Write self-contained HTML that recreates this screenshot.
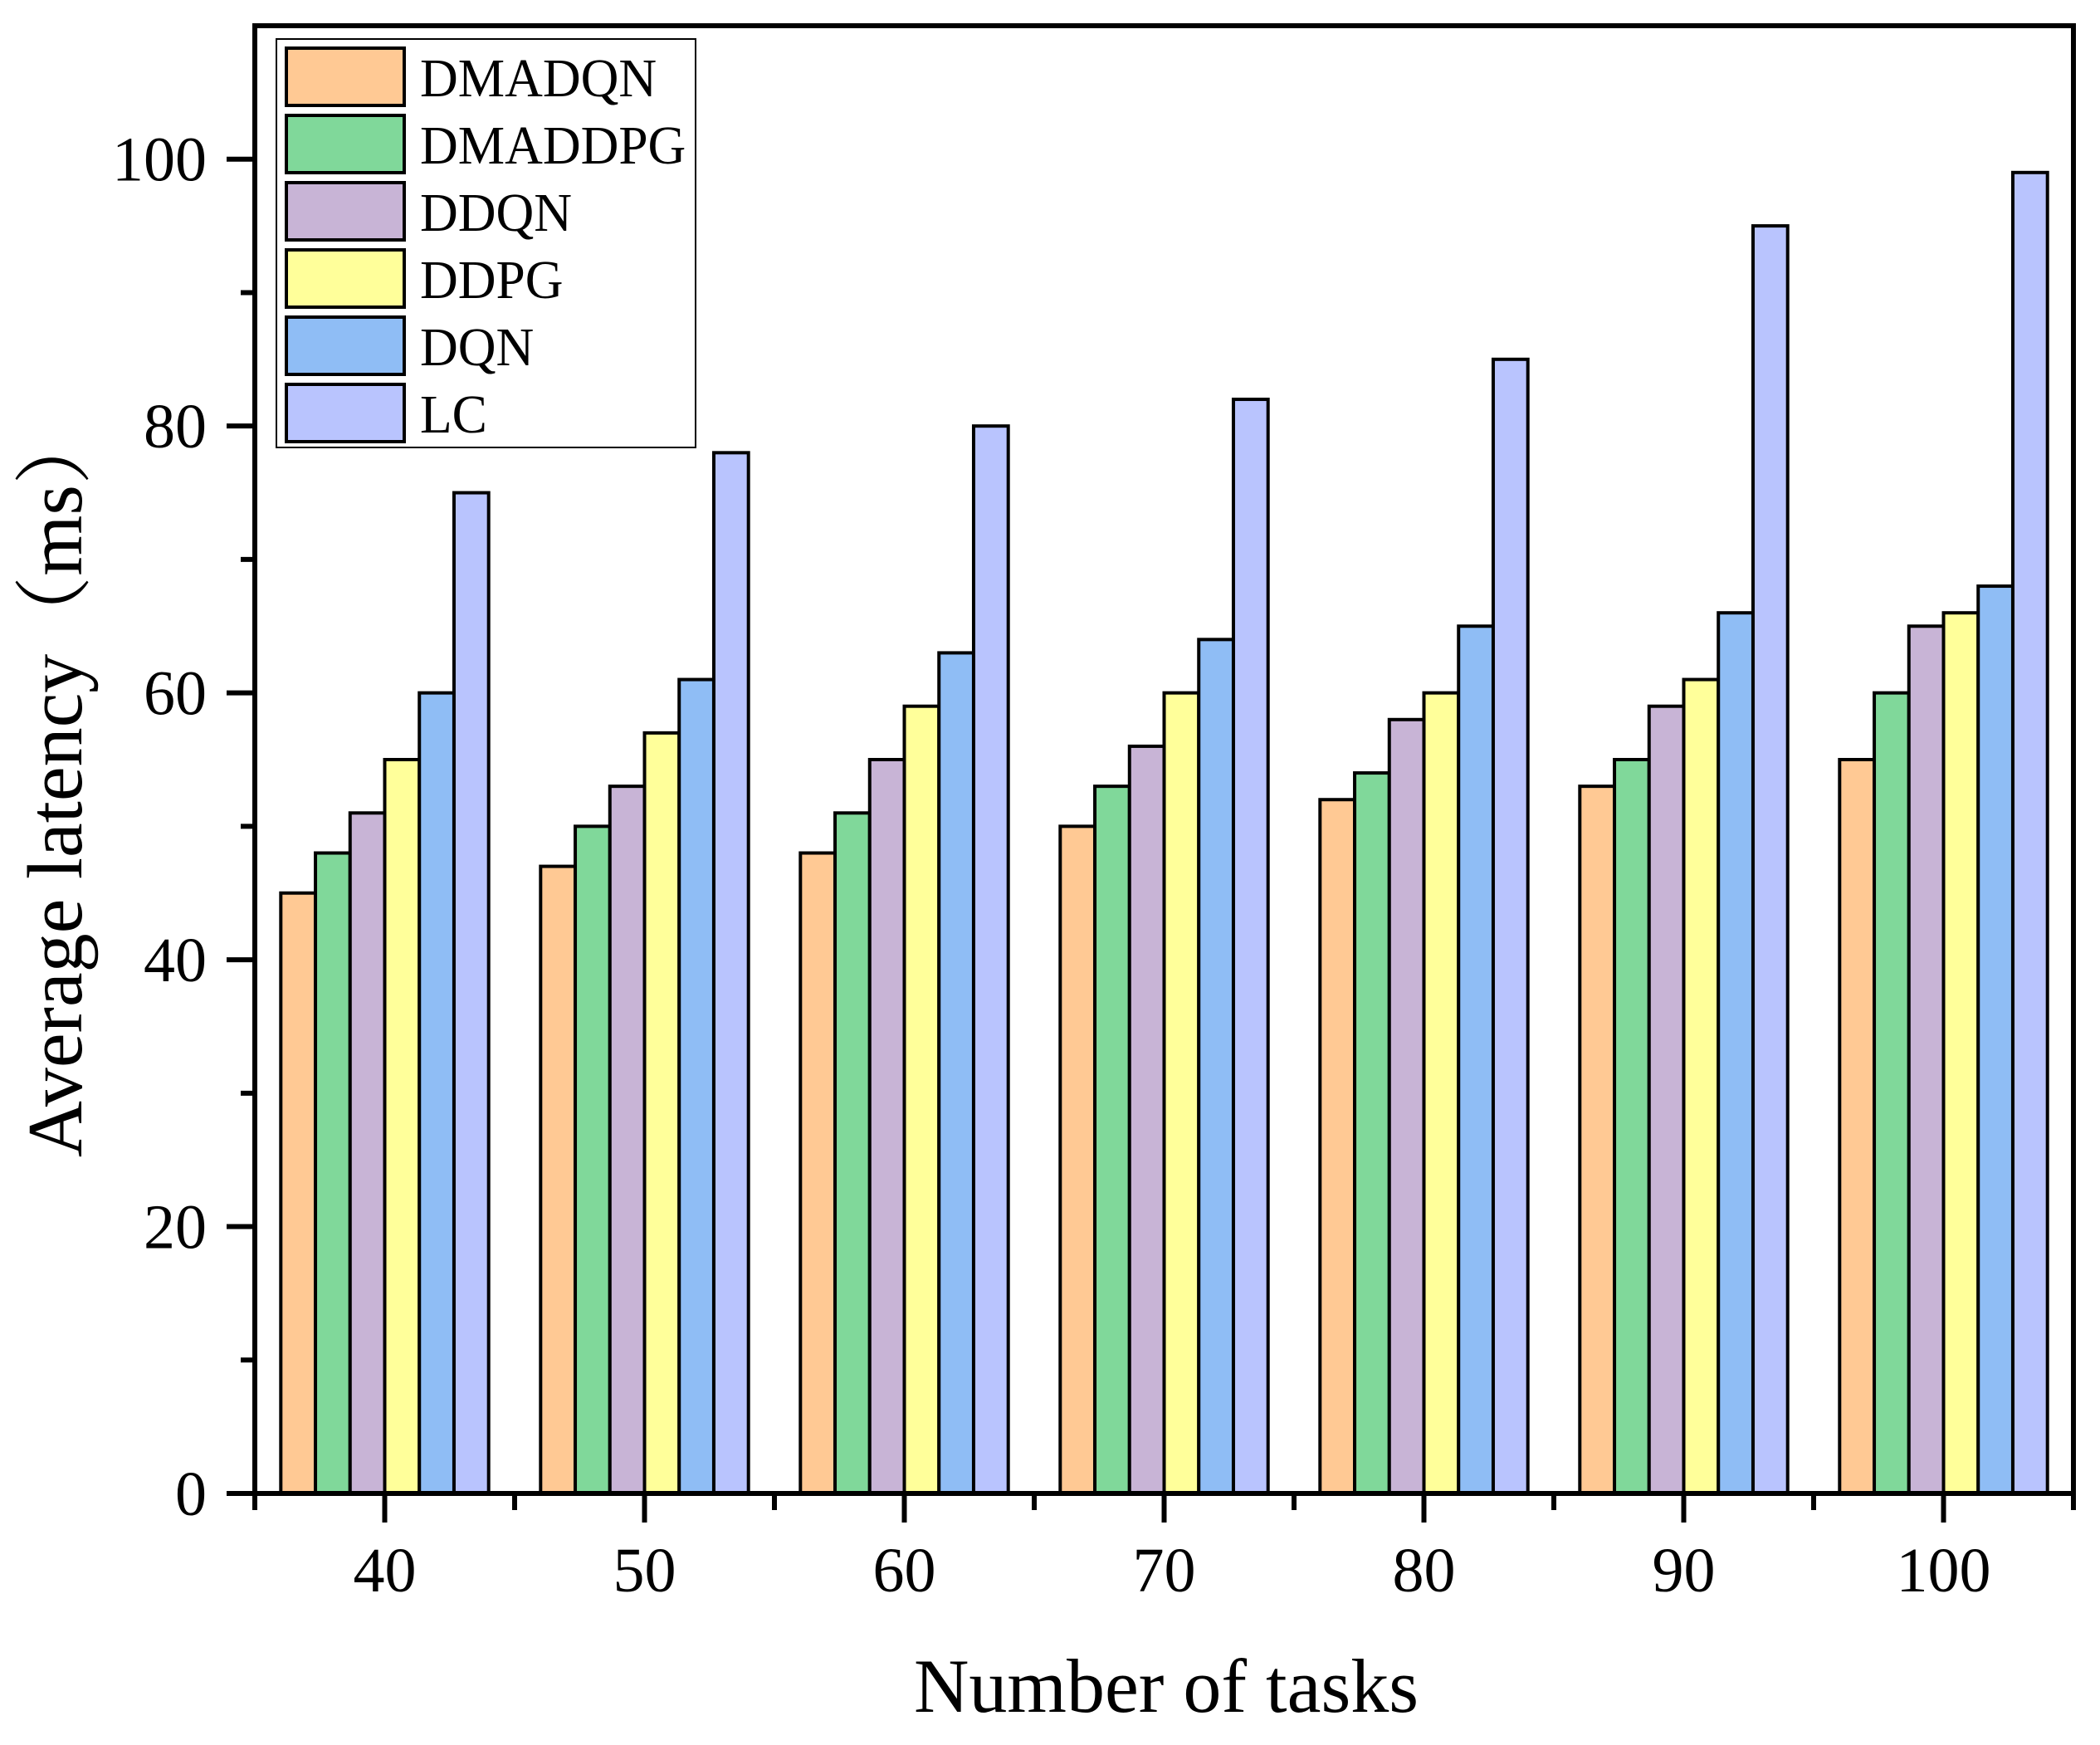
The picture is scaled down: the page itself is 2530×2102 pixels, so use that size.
<!DOCTYPE html>
<html><head><meta charset="utf-8"><style>
html,body{margin:0;padding:0;background:#fff;}
svg{display:block;font-family:"Liberation Serif","Noto Serif CJK SC",serif;}
</style></head><body>
<svg id="chart" width="2530" height="2102" viewBox="0 0 2530 2102" xmlns="http://www.w3.org/2000/svg">
<rect width="2530" height="2102" fill="#fff"/>
<g id="bars"></g>
<g id="axes"></g>
<g id="legend"></g>
<text x="1405" y="2062" font-size="92" text-anchor="middle">Number of tasks</text>
<text transform="translate(98,942) rotate(-90)" font-size="94" text-anchor="middle">Average latency（ms）</text>
</svg>
<script>
const categories = [40, 50, 60, 70, 80, 90, 100];
const seriesNames = ["DMADQN", "DMADDPG", "DDQN", "DDPG", "DQN", "LC"];
const dmadqn = [45, 47, 48, 50, 52, 53, 55];
const dmaddpg = [48, 50, 51, 53, 54, 55, 60];
const ddqn = [51, 53, 55, 56, 58, 59, 65];
const ddpg = [55, 57, 59, 60, 60, 61, 66];
const dqn = [60, 61, 63, 64, 65, 66, 68];
const lc = [75, 78, 80, 82, 85, 95, 99];
const yTicks = [0, 20, 40, 60, 80, 100];
const colors = ["#FFC994", "#80D89A", "#C8B4D6", "#FFFF9A", "#8FBDF5", "#B9C4FE"];
const allSeries = [dmadqn, dmaddpg, ddqn, ddpg, dqn, lc];

const NS = "http://www.w3.org/2000/svg";
const L = 307, R = 2498, T = 31, B = 1799;
const xMin = 35, xMax = 105, yMin = 0, yMax = 110;
function xs(v){ return L + (v - xMin) / (xMax - xMin) * (R - L); }
function ys(v){ return B - (v - yMin) / (yMax - yMin) * (B - T); }
function mk(tag, attrs, parent){ const e = document.createElementNS(NS, tag); for (const k in attrs) e.setAttribute(k, attrs[k]); parent.appendChild(e); return e; }

const barsG = document.getElementById('bars');
const step = xs(50) - xs(40);
const groupW = step * 0.8;
const bw = groupW / allSeries.length;
allSeries.forEach((s, si) => {
  s.forEach((v, ci) => {
    const x0 = xs(categories[ci]) - groupW / 2 + si * bw;
    const r = mk('rect', {x: x0, y: ys(v), width: bw, height: ys(0) - ys(v), fill: colors[si], stroke: '#000', 'stroke-width': 4}, barsG);
    
    
  });
});

const ax = document.getElementById('axes');
mk('rect', {x: L, y: T, width: R - L, height: B - T, fill: 'none', stroke: '#000', 'stroke-width': 6}, ax);
yTicks.forEach(t => {
  const y = ys(t);
  mk('line', {x1: L - 34, y1: y, x2: L, y2: y, stroke: '#000', 'stroke-width': 6}, ax);
  const lb = mk('text', {x: L - 58, y: y + 26, 'font-size': 76, 'text-anchor': 'end'}, ax);
  lb.textContent = t;
  
  
});
for (let t = 10; t < yMax; t += 20) {
  const y = ys(t);
  mk('line', {x1: L - 17, y1: y, x2: L, y2: y, stroke: '#000', 'stroke-width': 6}, ax);
}
categories.forEach(c => {
  const x = xs(c);
  mk('line', {x1: x, y1: B, x2: x, y2: B + 35, stroke: '#000', 'stroke-width': 6}, ax);
  const lb = mk('text', {x: x, y: B + 118, 'font-size': 76, 'text-anchor': 'middle'}, ax);
  lb.textContent = c;
  
  
});
for (let i = 0; i <= categories.length; i++) {
  const x = xs(categories[0] - 5 + i * 10);
  mk('line', {x1: x, y1: B, x2: x, y2: B + 20, stroke: '#000', 'stroke-width': 6}, ax);
}

const lg = document.getElementById('legend');
const box = mk('rect', {x: 333, y: 47, width: 505, height: 492, fill: '#fff', stroke: '#000', 'stroke-width': 2}, lg);


seriesNames.forEach((n, i) => {
  const y = 58 + i * 81;
  const sw = mk('rect', {x: 345, y: y, width: 142, height: 69, fill: colors[i], stroke: '#000', 'stroke-width': 4}, lg);
  
  
  const t = mk('text', {x: 506, y: y + 58, 'font-size': 66, transform: 'translate(' + (506 * 0.04) + ',0) scale(0.96,1)'}, lg);
  t.textContent = n;
  
  
});
</script>
</body></html>
